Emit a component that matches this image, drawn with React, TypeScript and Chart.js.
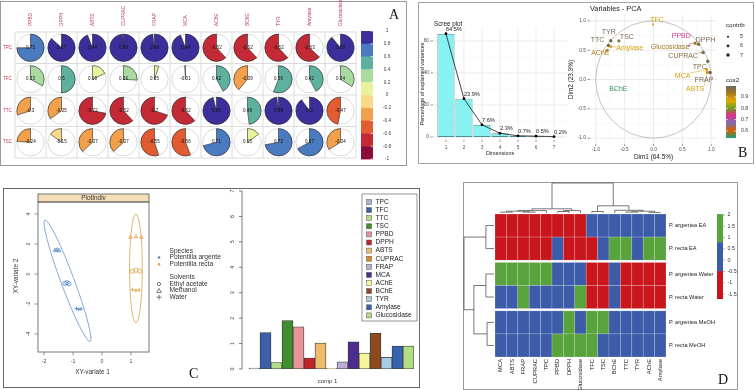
import { useEffect, useRef } from 'react';
import { Chart, registerables } from 'chart.js';

Chart.register(...registerables);

const SANS = '"Liberation Sans", Arial, Helvetica, sans-serif';
const SERIF = '"Liberation Serif", "Times New Roman", Times, serif';

// ---------------- Panel A : correlation pies ----------------
const corrRows = ['TPC', 'TFC', 'TTC', 'TSC'];
const corrCols = ['PPBD', 'DPPH', 'ABTS', 'CUPRAC', 'FRAP', 'MCA', 'AChE', 'BChE', 'TYR', 'Amylase', 'Glucosidase'];
const corrTPC = [0.75, 0.87, 0.94, 0.99, 0.98, 0.94, -0.62, -0.62, -0.62, -0.63, 0.89];
const corrTFC = [0.33, 0.5, 0.18, 0.26, 0.05, -0.01, 0.42, -0.39, 0.56, 0.42, 0.34];
const corrTTC = [-0.3, -0.35, -0.72, -0.62, -0.7, -0.62, 0.96, 0.48, 0.98, 0.9, -0.47];
const corrTSC = [-0.24, -0.15, -0.37, -0.37, -0.55, -0.56, 0.71, 0.15, 0.72, 0.67, -0.34];
const corrKeyTicks = ['1', '0.8', '0.6', '0.4', '0.2', '0', '-0.2', '-0.4', '-0.6', '-0.8', '-1'];
const corrPalette = ['#8B0D3B', '#C32A36', '#E35B31', '#F2A04B', '#FAD98A', '#EAF29E', '#A9DBA1', '#5DB19E', '#4A7AC0', '#3C2F9B'];

// ---------------- Panel B : scree + variables PCA ----------------
const screeDims = [1, 2, 3, 4, 5, 6, 7];
const screeVar = [64.5, 23.9, 7.6, 2.3, 0.7, 0.5, 0.2];
const screeYTicks = [0, 20, 40, 60];
const pcaVars = ['TPC', 'TFC', 'TTC', 'TSC', 'PPBD', 'DPPH', 'ABTS', 'CUPRAC', 'FRAP', 'MCA', 'AChE', 'BChE', 'TYR', 'Amylase', 'Glucosidase'];
const pcaDim1 = [0.94, -0.01, -0.78, -0.6, 0.62, 0.78, 0.93, 0.86, 0.98, 0.92, -0.8, -0.66, -0.74, -0.74, 0.72];
const pcaDim2 = [0.31, 0.94, 0.58, 0.66, 0.58, 0.6, 0.12, 0.46, 0.12, 0.17, 0.5, -0.18, 0.66, 0.56, 0.62];
const pcaCos2 = [0.98, 0.88, 0.98, 0.97, 0.72, 0.98, 0.88, 0.97, 0.99, 0.88, 0.92, 0.55, 0.99, 0.88, 0.94];
const pcaContrib = [7, 5, 6.8, 6.5, 4.8, 7, 6.6, 6.9, 7.1, 6.5, 6.3, 3.8, 7, 6.2, 6.4];
const pcaTicks = [-1, -0.5, 0, 0.5, 1];
const pcaTickLabels = ['-1.0', '-0.5', '0.0', '0.5', '1.0'];
const contribKey = [5, 6, 7];
const cos2KeyTicks = [0.9, 0.8, 0.7, 0.6];
// label placement (style, pixels)
const pcaLabelDx = [-8, 4, -11, 8, -8, 7, -12, -20, -6, -24, -7, 3, -2, 19, -25];
const pcaLabelDy = [6, -4, -5, -4, -9, -4, 17, 4, 7.5, 7, 3, -1, -9, 1, 4];
const dark2 = ['#1B9E77', '#D95F02', '#7570B3', '#E7298A', '#66A61E', '#E6AB02', '#A6761D', '#666666'];

// ---------------- Panel C : plotIndiv + loadings ----------------
const argenteaX = [-1.62, -1.55, -1.48, -1.28, -1.21, -1.14, -0.88, -0.8, -0.72];
const argenteaY = [1.58, 1.62, 1.55, -0.62, -0.58, -0.65, -2.3, -2.36, -2.33];
const rectaX = [0.98, 1.17, 1.36, 1.05, 1.17, 1.3, 1.05, 1.17, 1.28];
const rectaY = [2.45, 2.5, 2.45, 0.18, 0.25, 0.2, -1.05, -1.1, -1.07];
const sampleSolvent = ['Methanol', 'Methanol', 'Methanol', 'Ethyl acetate', 'Ethyl acetate', 'Ethyl acetate', 'Water', 'Water', 'Water'];
const solvents = ['Ethyl acetate', 'Methanol', 'Water'];
const species = ['Potentilla argente', 'Potentilla recta'];
const ellipseCX = [-1.19, 1.17];
const ellipseCY = [-0.45, 0.37];
const ellipseTipX = [-1.97, 1.17];
const ellipseTipY = [3.6, 4.0];
const ellipseMinor = [0.23, 0.22];
const indivXTicks = [-2, -1, 0, 1];
const indivYTicks = [-4, -2, 0, 2, 4];
const loadingVars = pcaVars;
const loadingVals = [0.04, 1.43, 0.25, 1.9, 1.66, 0.43, 1.02, 0.02, 0.28, 1.07, 0.63, 1.4, 0.46, 0.9, 0.9];
const loadingColors = ['#A9B5CF', '#3D5EA8', '#B1DD86', '#3F8F2E', '#E6939C', '#C4222B', '#EDBB6A', '#D98B2B', '#BCACD3', '#4B2D8E', '#F7F59A', '#8C4A1E', '#A9CBE3', '#3563AE', '#B3DD84'];
const loadingYTicks = [0, 1, 2, 3, 4, 5, 6, 7];

// ---------------- Panel D : heatmap ----------------
const heatCols = ['MCA', 'ABTS', 'FRAP', 'CUPRAC', 'TPC', 'PPBD', 'DPPH', 'Glucosidase', 'TFC', 'TSC', 'BChE', 'TTC', 'TYR', 'AChE', 'Amylase'];
const heatRows = ['P. argentea EA', 'P. recta EA', 'P. argentea Water', 'P. recta Water', 'P. argentea MeOH', 'P. recta MeOH'];
const heatArgEA = [-1.3, -1.2, -1.25, -1.1, -1.2, -1.0, -1.15, -0.9, 0.1, 0.3, 0.2, -0.1, 0.0, 0.2, 0.1];
const heatRecEA = [-1.1, -1.25, -1.2, -1.3, -1.1, 0.3, -1.2, -1.0, -0.9, 0.4, 1.3, 1.2, 0.6, 1.4, 1.3];
const heatArgWater = [1.3, 1.2, 1.1, 1.2, 1.3, 0.5, 0.4, 0.6, -1.0, -1.1, 0.2, -1.3, -1.2, -1.1, -1.2];
const heatRecWater = [0.6, 0.7, 1.1, 0.7, 0.6, 0.5, 0.4, 1.2, -1.1, -0.9, 0.3, -1.2, -1.2, -1.3, -1.1];
const heatArgMeOH = [0.4, 0.3, 0.2, 0.3, 0.4, 0.7, 1.2, 0.5, 1.5, 1.2, 0.3, 0.4, 0.3, 0.2, 0.4];
const heatRecMeOH = [0.2, 0.3, 0.3, 0.4, 0.5, 1.1, 1.2, 1.3, 1.4, 0.6, 0.1, 0.3, 0.2, 0.3, 0.2];
const heatBreaks = [-1.72, -0.48, 0.8, 2.04];
const heatColors = ['#C9161D', '#3C5BA8', '#58A33C'];
const heatKeyTicks = [2, 1.5, 1, 0.5, 0, -0.5, -1, -1.5];
// hclust-style merges (negative = leaf index, positive = earlier merge)
const colMergeA = [-1, -3, 1, 3, -6, 5, 4, -9, -12, -14, 9, -11, 8, 7];
const colMergeB = [-2, -4, 2, -5, -7, -8, 6, -10, -13, -15, 10, 11, 12, 13];
const colMergeH = [0.3, 0.3, 0.6, 0.8, 0.5, 0.8, 1.4, 0.5, 0.3, 0.2, 0.6, 0.9, 2.4, 10];
const rowMergeA = [-1, -3, -5, 2, 1];
const rowMergeB = [-2, -4, -6, 3, 4];
const rowMergeH = [2.7, 2.7, 2.3, 6.7, 10];
// row placement with group gaps (layout)
const heatRowPos = [0, 1, 2.1, 3.1, 4.2, 5.2];

// ---------------- helpers ----------------
function txt(ctx: any, s: string, x: number, y: number, size: number, color: string, align = 'center', rot = 0, family = SANS) {
  ctx.save();
  ctx.translate(x, y);
  if (rot) ctx.rotate(rot);
  ctx.font = `${size}px ${family}`;
  ctx.fillStyle = color;
  ctx.textAlign = align;
  ctx.textBaseline = 'middle';
  ctx.fillText(s, 0, 0);
  ctx.restore();
}
function seg(ctx: any, x1: number, y1: number, x2: number, y2: number, color: string, w: number) {
  ctx.beginPath();
  ctx.moveTo(x1, y1);
  ctx.lineTo(x2, y2);
  ctx.strokeStyle = color;
  ctx.lineWidth = w;
  ctx.stroke();
}
function corrColor(v: number) {
  let i = Math.floor((v + 1) / 0.2);
  if (i < 0) i = 0;
  if (i > 9) i = 9;
  return corrPalette[i];
}
function hexToRgb(h: string) {
  return [parseInt(h.slice(1, 3), 16), parseInt(h.slice(3, 5), 16), parseInt(h.slice(5, 7), 16)];
}
const COS2_MIN = 0.54;
const COS2_MAX = 1.0;
function cos2Color(v: number) {
  let t = (v - COS2_MIN) / (COS2_MAX - COS2_MIN);
  t = Math.max(0, Math.min(1, t));
  const p = t * (dark2.length - 1);
  const i = Math.min(dark2.length - 2, Math.floor(p));
  const f = p - i;
  const a = hexToRgb(dark2[i]);
  const b = hexToRgb(dark2[i + 1]);
  const c = a.map((av, k) => Math.round(av + (b[k] - av) * f));
  return `rgb(${c[0]},${c[1]},${c[2]})`;
}
function heatColor(v: number) {
  if (v < heatBreaks[1]) return heatColors[0];
  if (v < heatBreaks[2]) return heatColors[1];
  return heatColors[2];
}
const baseOptions = (padding: any) => ({
  responsive: false,
  animation: false,
  devicePixelRatio: 1,
  events: [],
  layout: { padding },
  plugins: { legend: { display: false }, tooltip: { enabled: false }, title: { display: false } },
});

// ---------------- Panel A chart ----------------
const corrMatrix = [corrTPC, corrTFC, corrTTC, corrTSC];
const corrPlugin = {
  id: 'corrPies',
  afterDatasetsDraw(chart: any) {
    const { ctx, chartArea: a } = chart;
    const xs = chart.scales.x;
    const ys = chart.scales.y;
    ctx.save();
    for (let c = 0; c <= corrCols.length; c++) {
      const p = xs.getPixelForValue(c);
      seg(ctx, p, a.top, p, a.bottom, '#d3d3d3', 0.8);
    }
    for (let r = 0; r <= corrRows.length; r++) {
      const p = ys.getPixelForValue(r);
      seg(ctx, a.left, p, a.right, p, '#d3d3d3', 0.8);
    }
    const cw = Math.abs(xs.getPixelForValue(1) - xs.getPixelForValue(0));
    const ch = Math.abs(ys.getPixelForValue(1) - ys.getPixelForValue(0));
    const R = Math.min(cw, ch) * 0.44;
    const pts = chart.data.datasets[0].data;
    chart.getDatasetMeta(0).data.forEach((el: any, i: number) => {
      const v = pts[i].v;
      const x = el.x;
      const y = el.y;
      ctx.beginPath();
      ctx.arc(x, y, R, 0, Math.PI * 2);
      ctx.strokeStyle = '#cacaca';
      ctx.lineWidth = 0.7;
      ctx.stroke();
      const s = -Math.PI / 2;
      ctx.beginPath();
      ctx.moveTo(x, y);
      ctx.arc(x, y, R, s, s + 2 * Math.PI * v, v < 0);
      ctx.closePath();
      ctx.fillStyle = corrColor(v);
      ctx.fill();
      ctx.strokeStyle = '#2a2a2a';
      ctx.lineWidth = 0.6;
      ctx.stroke();
      txt(ctx, String(v), x, y, 4.5, '#111');
    });
    corrCols.forEach((c, i) => txt(ctx, c, xs.getPixelForValue(i + 0.5), a.top - 6, 4.8, '#B8394F', 'left', -Math.PI / 2));
    corrRows.forEach((r, i) => txt(ctx, r, 3, ys.getPixelForValue(i + 0.5), 4.5, '#C0394F', 'left'));
    // colour key
    const kx = a.right + 5;
    const kw = 12;
    const kt = a.top - 1;
    const kb = a.bottom + 1;
    const n = corrPalette.length;
    const bh = (kb - kt) / n;
    for (let i = 0; i < n; i++) {
      ctx.fillStyle = corrPalette[n - 1 - i];
      ctx.fillRect(kx, kt + i * bh, kw, bh + 0.4);
    }
    corrKeyTicks.forEach((t, i) => {
      const yy = kt + (i * (kb - kt)) / (corrKeyTicks.length - 1);
      seg(ctx, kx + kw - 2.5, yy, kx + kw, yy, '#ffffff', 0.7);
      txt(ctx, t, kx + 26, yy, 4.8, '#444');
    });
    ctx.restore();
  },
};
function buildCorr() {
  const data: any[] = [];
  corrRows.forEach((r, ri) => corrCols.forEach((c, ci) => data.push({ x: ci + 0.5, y: ri + 0.5, v: corrMatrix[ri][ci] })));
  return {
    type: 'scatter',
    data: { datasets: [{ data, pointRadius: 0 }] },
    options: {
      ...baseOptions({ left: 15, right: 49, top: 32, bottom: 8 }),
      scales: {
        x: { type: 'linear', min: 0, max: corrCols.length, display: false },
        y: { type: 'linear', min: 0, max: corrRows.length, reverse: true, display: false },
      },
    },
    plugins: [corrPlugin],
  };
}

// ---------------- Panel B : scree ----------------
const screePlugin = {
  id: 'scree',
  beforeDatasetsDraw(chart: any) {
    const { ctx, chartArea: a } = chart;
    const xs = chart.scales.x;
    const ys = chart.scales.y;
    ctx.save();
    [10, 30, 50].forEach((v) => {
      const p = ys.getPixelForValue(v);
      seg(ctx, a.left, p, a.right, p, '#f2f2f2', 0.5);
    });
    screeYTicks.forEach((v) => {
      const p = ys.getPixelForValue(v);
      seg(ctx, a.left, p, a.right, p, '#e3e3e3', 0.7);
    });
    screeDims.forEach((d) => {
      const p = xs.getPixelForValue(d);
      seg(ctx, p, a.top, p, a.bottom, '#e3e3e3', 0.7);
    });
    ctx.restore();
  },
  afterDatasetsDraw(chart: any) {
    const { ctx, chartArea: a } = chart;
    const xs = chart.scales.x;
    const ys = chart.scales.y;
    ctx.save();
    screeDims.forEach((d, i) => {
      const px = xs.getPixelForValue(d);
      const py = ys.getPixelForValue(screeVar[i]);
      txt(ctx, `${screeVar[i]}%`, px, py - 4.5, 5.6, '#222', 'left');
      seg(ctx, px, a.bottom, px, a.bottom + 2, '#555', 0.6);
      txt(ctx, String(d), px, a.bottom + 8, 4.8, '#4d4d4d');
    });
    screeYTicks.forEach((v) => {
      const p = ys.getPixelForValue(v);
      seg(ctx, a.left - 2.5, p, a.left, p, '#555', 0.6);
      txt(ctx, String(v), a.left - 4, p, 4.8, '#4d4d4d', 'right');
    });
    txt(ctx, 'Scree plot', a.left + 1, a.top - 4, 6.3, '#222', 'left');
    txt(ctx, 'Dimensions', (a.left + a.right) / 2, a.bottom + 14, 5.4, '#222');
    txt(ctx, 'Percentage of explained variances', 5, (a.top + a.bottom) / 2, 5.4, '#222', 'center', -Math.PI / 2);
    ctx.restore();
  },
};
function buildScree() {
  const pts = screeDims.map((d, i) => ({ x: d, y: screeVar[i] }));
  return {
    type: 'bar',
    data: {
      datasets: [
        { type: 'line', data: pts, borderColor: '#1a1a1a', borderWidth: 0.8, pointRadius: 1.4, pointBackgroundColor: '#000', pointBorderWidth: 0, order: 0 },
        { type: 'bar', data: pts, backgroundColor: '#86F2F2', borderColor: '#4D8E98', borderWidth: 0.9, borderSkipped: false, barPercentage: 0.95, categoryPercentage: 1, order: 1 },
      ],
    },
    options: {
      ...baseOptions({ left: 15, right: 11, top: 26, bottom: 23 }),
      scales: {
        x: { type: 'linear', min: 0.28, max: 7.72, offset: false, display: false },
        y: { type: 'linear', min: -1.9, max: 68.1, display: false },
      },
    },
    plugins: [screePlugin],
  };
}

// ---------------- Panel B : variables PCA ----------------
const pcaPlugin = {
  id: 'pca',
  beforeDatasetsDraw(chart: any) {
    const { ctx, chartArea: a } = chart;
    const xs = chart.scales.x;
    const ys = chart.scales.y;
    ctx.save();
    [-0.75, -0.25, 0.25, 0.75].forEach((v) => {
      const px = xs.getPixelForValue(v);
      const py = ys.getPixelForValue(v);
      seg(ctx, px, a.top, px, a.bottom, '#f2f2f2', 0.5);
      seg(ctx, a.left, py, a.right, py, '#f2f2f2', 0.5);
    });
    pcaTicks.forEach((v) => {
      const px = xs.getPixelForValue(v);
      const py = ys.getPixelForValue(v);
      seg(ctx, px, a.top, px, a.bottom, '#e3e3e3', 0.7);
      seg(ctx, a.left, py, a.right, py, '#e3e3e3', 0.7);
    });
    const cx = xs.getPixelForValue(0);
    const cy = ys.getPixelForValue(0);
    const rx = xs.getPixelForValue(1) - cx;
    const ry = cy - ys.getPixelForValue(1);
    ctx.beginPath();
    ctx.ellipse(cx, cy, rx, ry, 0, 0, Math.PI * 2);
    ctx.strokeStyle = '#b5b5b5';
    ctx.lineWidth = 0.8;
    ctx.stroke();
    ctx.restore();
  },
  afterDatasetsDraw(chart: any) {
    const { ctx, chartArea: a } = chart;
    const xs = chart.scales.x;
    const ys = chart.scales.y;
    ctx.save();
    const meta = chart.getDatasetMeta(0);
    meta.data.forEach((el: any, i: number) => {
      const col = cos2Color(pcaCos2[i]);
      const lx = el.x + pcaLabelDx[i];
      const ly = el.y + pcaLabelDy[i];
      ctx.font = `7px ${SANS}`;
      const w = ctx.measureText(pcaVars[i]).width;
      if (Math.hypot(pcaLabelDx[i], pcaLabelDy[i]) > 15) {
        const nx = Math.max(lx - w / 2, Math.min(el.x, lx + w / 2));
        const ny = Math.max(ly - 3.5, Math.min(el.y, ly + 3.5));
        seg(ctx, el.x, el.y, nx, ny, col, 0.5);
      }
      txt(ctx, pcaVars[i], lx, ly, 7, col);
    });
    pcaTicks.forEach((v, i) => {
      const py = ys.getPixelForValue(v);
      seg(ctx, a.left - 2.5, py, a.left, py, '#555', 0.6);
      txt(ctx, pcaTickLabels[i], a.left - 4, py, 4.8, '#4d4d4d', 'right');
      const px = xs.getPixelForValue(v);
      seg(ctx, px, a.bottom, px, a.bottom + 2, '#555', 0.6);
      txt(ctx, pcaTickLabels[i], px, a.bottom + 6, 4.8, '#4d4d4d');
    });
    txt(ctx, 'Variables - PCA', a.left, 7, 7.3, '#222', 'left');
    txt(ctx, 'Dim1 (64.5%)', (a.left + a.right) / 2, a.bottom + 13, 6.4, '#222');
    txt(ctx, 'Dim2 (23.9%)', 11, (a.top + a.bottom) / 2, 6.4, '#222', 'center', -Math.PI / 2);
    // contrib legend
    const lx0 = a.right + 9;
    txt(ctx, 'contrib', lx0, 23, 6.2, '#222', 'left');
    contribKey.forEach((c, i) => {
      const yy = 34.7 + i * 9.2;
      ctx.beginPath();
      ctx.arc(lx0 + 2, yy, 0.35 * (c - 2), 0, Math.PI * 2);
      ctx.fillStyle = '#222';
      ctx.fill();
      txt(ctx, String(c), lx0 + 14, yy, 5.4, '#333', 'left');
    });
    // cos2 legend
    txt(ctx, 'cos2', lx0, 78, 6.2, '#222', 'left');
    const gTop = 84;
    const gBot = 136;
    const gx = lx0;
    const grad = ctx.createLinearGradient(0, gBot, 0, gTop);
    const vb = 0.9 - (gBot - 95) / 113;
    const vt = 0.9 + (95 - gTop) / 113;
    for (let k = 0; k <= 20; k++) {
      const v = vb + ((vt - vb) * k) / 20;
      grad.addColorStop(k / 20, cos2Color(v));
    }
    ctx.fillStyle = grad;
    ctx.fillRect(gx, gTop, 10, gBot - gTop);
    cos2KeyTicks.forEach((v) => {
      const yy = 95 + (0.9 - v) * 113;
      seg(ctx, gx, yy, gx + 2, yy, '#fff', 0.6);
      seg(ctx, gx + 8, yy, gx + 10, yy, '#fff', 0.6);
      txt(ctx, String(v), gx + 15, yy, 5.2, '#333', 'left');
    });
    ctx.restore();
  },
};
function buildPca() {
  return {
    type: 'scatter',
    data: {
      datasets: [
        {
          data: pcaVars.map((n, i) => ({ x: pcaDim1[i], y: pcaDim2[i] })),
          pointRadius: pcaContrib.map((c) => Math.max(0.6, 0.35 * (c - 2))),
          pointBackgroundColor: pcaCos2.map((c) => cos2Color(c)),
          pointBorderWidth: 0,
        },
      ],
    },
    options: {
      ...baseOptions({ left: 30, right: 38, top: 13, bottom: 19 }),
      scales: {
        x: { type: 'linear', min: -1.1, max: 1.1, display: false },
        y: { type: 'linear', min: -1.1, max: 1.1, display: false },
      },
    },
    plugins: [pcaPlugin],
  };
}

// ---------------- Panel C : plotIndiv ----------------
const speciesColor = ['#4F86C6', '#E0A040'];
const ellipseColor = ['#7F9FCB', '#D7B062'];
const solventStyle: any = { 'Ethyl acetate': 'circle', Methanol: 'triangle', Water: 'cross' };
const indivPlugin = {
  id: 'indiv',
  beforeDatasetsDraw(chart: any) {
    const { ctx } = chart;
    const xs = chart.scales.x;
    const ys = chart.scales.y;
    ctx.save();
    ellipseCX.forEach((cxv, i) => {
      const cx = xs.getPixelForValue(cxv);
      const cy = ys.getPixelForValue(ellipseCY[i]);
      const tx = xs.getPixelForValue(ellipseTipX[i]);
      const ty = ys.getPixelForValue(ellipseTipY[i]);
      const rx = Math.hypot(tx - cx, ty - cy);
      const rot = Math.atan2(ty - cy, tx - cx);
      const ry = Math.abs(xs.getPixelForValue(ellipseMinor[i]) - xs.getPixelForValue(0));
      ctx.beginPath();
      ctx.ellipse(cx, cy, rx, ry, rot, 0, Math.PI * 2);
      ctx.strokeStyle = ellipseColor[i];
      ctx.lineWidth = 0.9;
      ctx.stroke();
    });
    ctx.restore();
  },
  afterDatasetsDraw(chart: any) {
    const { ctx, chartArea: a } = chart;
    const xs = chart.scales.x;
    const ys = chart.scales.y;
    ctx.save();
    // strip
    ctx.fillStyle = '#F5DFB8';
    ctx.fillRect(a.left, a.top - 8, a.right - a.left, 8);
    ctx.strokeStyle = '#555';
    ctx.lineWidth = 0.8;
    ctx.strokeRect(a.left, a.top - 8, a.right - a.left, 8);
    ctx.strokeRect(a.left, a.top, a.right - a.left, a.bottom - a.top);
    txt(ctx, 'PlotIndiv', (a.left + a.right) / 2, a.top - 4, 6.4, '#333');
    indivYTicks.forEach((v) => {
      const p = ys.getPixelForValue(v);
      seg(ctx, a.left - 3.5, p, a.left, p, '#555', 0.6);
      txt(ctx, String(v), a.left - 9, p, 5.2, '#444', 'center', -Math.PI / 2);
    });
    indivXTicks.forEach((v) => {
      const p = xs.getPixelForValue(v);
      seg(ctx, p, a.bottom, p, a.bottom + 3.5, '#555', 0.6);
      txt(ctx, String(v), p, a.bottom + 10, 5.2, '#444');
    });
    txt(ctx, 'XY-variate 1', (a.left + a.right) / 2 - 1, a.bottom + 20, 6.4, '#333');
    txt(ctx, 'XY-variate 2', 13, (a.top + a.bottom) / 2 - 1, 6.4, '#333', 'center', -Math.PI / 2);
    // legend
    const lx = a.right + 10;
    const tx = a.right + 20.5;
    txt(ctx, 'Species', tx, 63, 6.6, '#333', 'left');
    species.forEach((s, i) => {
      const yy = 69.5 + i * 6.8;
      ctx.beginPath();
      ctx.arc(lx, yy, 1.3, 0, Math.PI * 2);
      ctx.fillStyle = speciesColor[i];
      ctx.fill();
      txt(ctx, s, tx, yy, 6.6, '#333', 'left');
    });
    txt(ctx, 'Solvents', tx, 89, 6.6, '#333', 'left');
    solvents.forEach((s, i) => {
      const yy = 96 + i * 6.6;
      ctx.strokeStyle = '#444';
      ctx.lineWidth = 0.7;
      ctx.beginPath();
      if (i === 0) ctx.arc(lx, yy, 1.6, 0, Math.PI * 2);
      else if (i === 1) {
        ctx.moveTo(lx, yy - 2.2);
        ctx.lineTo(lx + 2.3, yy + 1.8);
        ctx.lineTo(lx - 2.3, yy + 1.8);
        ctx.closePath();
      } else {
        ctx.moveTo(lx - 2.5, yy);
        ctx.lineTo(lx + 2.5, yy);
        ctx.moveTo(lx, yy - 2.5);
        ctx.lineTo(lx, yy + 2.5);
      }
      ctx.stroke();
      txt(ctx, s, tx, yy, 6.6, '#333', 'left');
    });
    ctx.restore();
  },
};
function buildIndiv() {
  const datasets: any[] = [];
  [
    [argenteaX, argenteaY],
    [rectaX, rectaY],
  ].forEach(([xv, yv], si) => {
    solvents.forEach((sol) => {
      const data = xv.map((x, k) => ({ x, y: yv[k], s: sampleSolvent[k] })).filter((p) => p.s === sol);
      datasets.push({
        data,
        pointStyle: solventStyle[sol],
        pointRadius: 2.1,
        borderColor: speciesColor[si],
        backgroundColor: 'rgba(0,0,0,0)',
        pointBorderWidth: 0.8,
      });
    });
  });
  return {
    type: 'scatter',
    data: { datasets },
    options: {
      ...baseOptions({ left: 35, right: 94, top: 14, bottom: 35 }),
      scales: {
        x: { type: 'linear', min: -2.207, max: 1.621, display: false },
        y: { type: 'linear', min: -5.2, max: 4.8, display: false },
      },
    },
    plugins: [indivPlugin],
  };
}

// ---------------- Panel C : loadings ----------------
const loadPlugin = {
  id: 'loadings',
  afterDatasetsDraw(chart: any) {
    const { ctx, chartArea: a } = chart;
    const ys = chart.scales.y;
    ctx.save();
    const ax = a.left - 7;
    seg(ctx, ax, ys.getPixelForValue(0), ax, ys.getPixelForValue(7), '#444', 0.7);
    loadingYTicks.forEach((v) => {
      const p = ys.getPixelForValue(v);
      seg(ctx, ax - 3, p, ax, p, '#444', 0.7);
      txt(ctx, String(v), ax - 9, p, 5.4, '#444', 'center', -Math.PI / 2);
    });
    txt(ctx, 'comp 1', (a.left + a.right) / 2 - 4, a.bottom + 12, 6, '#333');
    // legend box
    const bx = 142;
    const by = 6;
    ctx.fillStyle = '#fff';
    ctx.fillRect(bx, by, 55, 127);
    ctx.strokeStyle = '#666';
    ctx.lineWidth = 0.7;
    ctx.strokeRect(bx, by, 55, 127);
    loadingVars.forEach((n, i) => {
      const yy = by + 8 + i * 8.1;
      ctx.fillStyle = loadingColors[i];
      ctx.fillRect(bx + 4.5, yy - 2.5, 5, 5);
      ctx.strokeStyle = '#555';
      ctx.lineWidth = 0.5;
      ctx.strokeRect(bx + 4.5, yy - 2.5, 5, 5);
      txt(ctx, n, bx + 13.5, yy, 6.6, '#222', 'left');
    });
    ctx.restore();
  },
};
function buildLoadings() {
  return {
    type: 'bar',
    data: {
      labels: loadingVars,
      datasets: [
        {
          data: loadingVals,
          backgroundColor: loadingColors,
          borderColor: '#3a3a3a',
          borderWidth: 0.8,
          borderSkipped: false,
          categoryPercentage: 1,
          barPercentage: 1,
        },
      ],
    },
    options: {
      ...baseOptions({ left: 29, right: 5, top: 3, bottom: 18 }),
      scales: {
        x: { type: 'category', display: false },
        y: { type: 'linear', min: 0, max: 7, display: false },
      },
    },
    plugins: [loadPlugin],
  };
}

// ---------------- Panel D : heatmap ----------------
const heatMatrix = [heatArgEA, heatRecEA, heatArgWater, heatRecWater, heatArgMeOH, heatRecMeOH];
function drawDendro(ctx: any, mA: number[], mB: number[], mH: number[], leafPos: (i: number) => number, toPx: (p: number, h: number) => number[]) {
  const pos: number[] = [];
  const ht: number[] = [];
  const get = (k: number) => (k < 0 ? [leafPos(-k - 1), 0] : [pos[k - 1], ht[k - 1]]);
  for (let i = 0; i < mA.length; i++) {
    const [p1, h1] = get(mA[i]);
    const [p2, h2] = get(mB[i]);
    const h = mH[i];
    const a1 = toPx(p1, h1);
    const a2 = toPx(p1, h);
    const b2 = toPx(p2, h);
    const b1 = toPx(p2, h2);
    ctx.beginPath();
    ctx.moveTo(a1[0], a1[1]);
    ctx.lineTo(a2[0], a2[1]);
    ctx.lineTo(b2[0], b2[1]);
    ctx.lineTo(b1[0], b1[1]);
    ctx.strokeStyle = '#555';
    ctx.lineWidth = 0.8;
    ctx.stroke();
    pos.push((p1 + p2) / 2);
    ht.push(h);
  }
}
const heatPlugin = {
  id: 'heat',
  afterDatasetsDraw(chart: any) {
    const { ctx, chartArea: a } = chart;
    const xs = chart.scales.x;
    const ys = chart.scales.y;
    ctx.save();
    chart.data.datasets[0].data.forEach((d: any) => {
      const x0 = xs.getPixelForValue(d.c);
      const x1 = xs.getPixelForValue(d.c + 1);
      const y0 = ys.getPixelForValue(d.y - 0.5);
      const y1 = ys.getPixelForValue(d.y + 0.5);
      ctx.fillStyle = heatColor(d.v);
      ctx.fillRect(x0, y0, x1 - x0, y1 - y0);
      ctx.strokeStyle = 'rgba(255,255,255,0.3)';
      ctx.lineWidth = 0.6;
      ctx.strokeRect(x0, y0, x1 - x0, y1 - y0);
    });
    const K = 3;
    drawDendro(ctx, colMergeA, colMergeB, colMergeH, (i) => xs.getPixelForValue(i + 0.5), (p, h) => [p, a.top - 1 - h * K]);
    drawDendro(ctx, rowMergeA, rowMergeB, rowMergeH, (i) => ys.getPixelForValue(heatRowPos[i] + 0.5), (p, h) => [a.left - 1 - h * K, p]);
    heatRows.forEach((r, i) => txt(ctx, r, a.right + 3, ys.getPixelForValue(heatRowPos[i] + 0.5), 5.6, '#222', 'left'));
    heatCols.forEach((c, i) => txt(ctx, c, xs.getPixelForValue(i + 0.5), a.bottom + 2, 5.8, '#222', 'right', -Math.PI / 2));
    // key
    const kx = 254;
    const ky = (v: number) => 33 + (2 - v) * 22.6;
    for (let i = 0; i < heatColors.length; i++) {
      const yTop = ky(heatBreaks[i + 1]);
      const yBot = ky(heatBreaks[i]);
      ctx.fillStyle = heatColors[i];
      ctx.fillRect(kx, yTop, 6, yBot - yTop);
    }
    heatKeyTicks.forEach((v) => {
      const yy = ky(v);
      seg(ctx, kx + 6, yy, kx + 8, yy, '#666', 0.5);
      txt(ctx, String(v), kx + 10.5, yy, 5.4, '#333', 'left');
    });
    ctx.restore();
  },
};
function buildHeat() {
  const data: any[] = [];
  heatMatrix.forEach((row, r) => row.forEach((v, c) => data.push({ x: c + 0.5, y: heatRowPos[r] + 0.5, c, v })));
  return {
    type: 'scatter',
    data: { datasets: [{ data, pointRadius: 0 }] },
    options: {
      ...baseOptions({ left: 32, right: 89, top: 32, bottom: 33 }),
      scales: {
        x: { type: 'linear', min: 0, max: heatCols.length, display: false },
        y: { type: 'linear', min: 0, max: heatRowPos[heatRowPos.length - 1] + 1, reverse: true, display: false },
      },
    },
    plugins: [heatPlugin],
  };
}

// ---------------- components ----------------
function ChartCanvas({ left, top, width, height, build }: any) {
  const ref = useRef<HTMLCanvasElement | null>(null);
  useEffect(() => {
    if (!ref.current) return;
    const chart = new Chart(ref.current, build());
    return () => chart.destroy();
  }, []);
  return <canvas ref={ref} width={width} height={height} style={{ position: 'absolute', left, top, width, height }} />;
}

function Box({ left, top, width, height, border }: any) {
  return <div style={{ position: 'absolute', left, top, width, height, border, boxSizing: 'border-box' }} />;
}

function Letter({ ch, left, top }: any) {
  return (
    <div style={{ position: 'absolute', left, top, fontFamily: SERIF, fontSize: 14, lineHeight: '14px', color: '#111' }}>{ch}</div>
  );
}

export default function App() {
  return (
    <div style={{ position: 'fixed', left: 0, top: 0, width: 755, height: 390, background: '#fff', overflow: 'hidden' }}>
      <Box left={0} top={1} width={407} height={165} border="1.5px solid #9a9a9a" />
      <Box left={418} top={2} width={336} height={162} border="1.5px solid #a3a3a3" />
      <Box left={3} top={188} width={417} height={200} border="1px solid #666" />
      <Box left={463} top={182} width={275} height={208} border="1px solid #999" />
      <ChartCanvas left={0} top={0} width={405} height={166} build={buildCorr} />
      <ChartCanvas left={418} top={2} width={160} height={161} build={buildScree} />
      <ChartCanvas left={560} top={2} width={195} height={161} build={buildPca} />
      <ChartCanvas left={3} top={188} width={240} height={199} build={buildIndiv} />
      <ChartCanvas left={220} top={188} width={199} height={199} build={buildLoadings} />
      <ChartCanvas left={463} top={182} width={292} height={208} build={buildHeat} />
      <Letter ch="A" left={389} top={7.6} />
      <Letter ch="B" left={738} top={145.6} />
      <Letter ch="C" left={189} top={366.6} />
      <Letter ch="D" left={718} top={372.6} />
    </div>
  );
}
